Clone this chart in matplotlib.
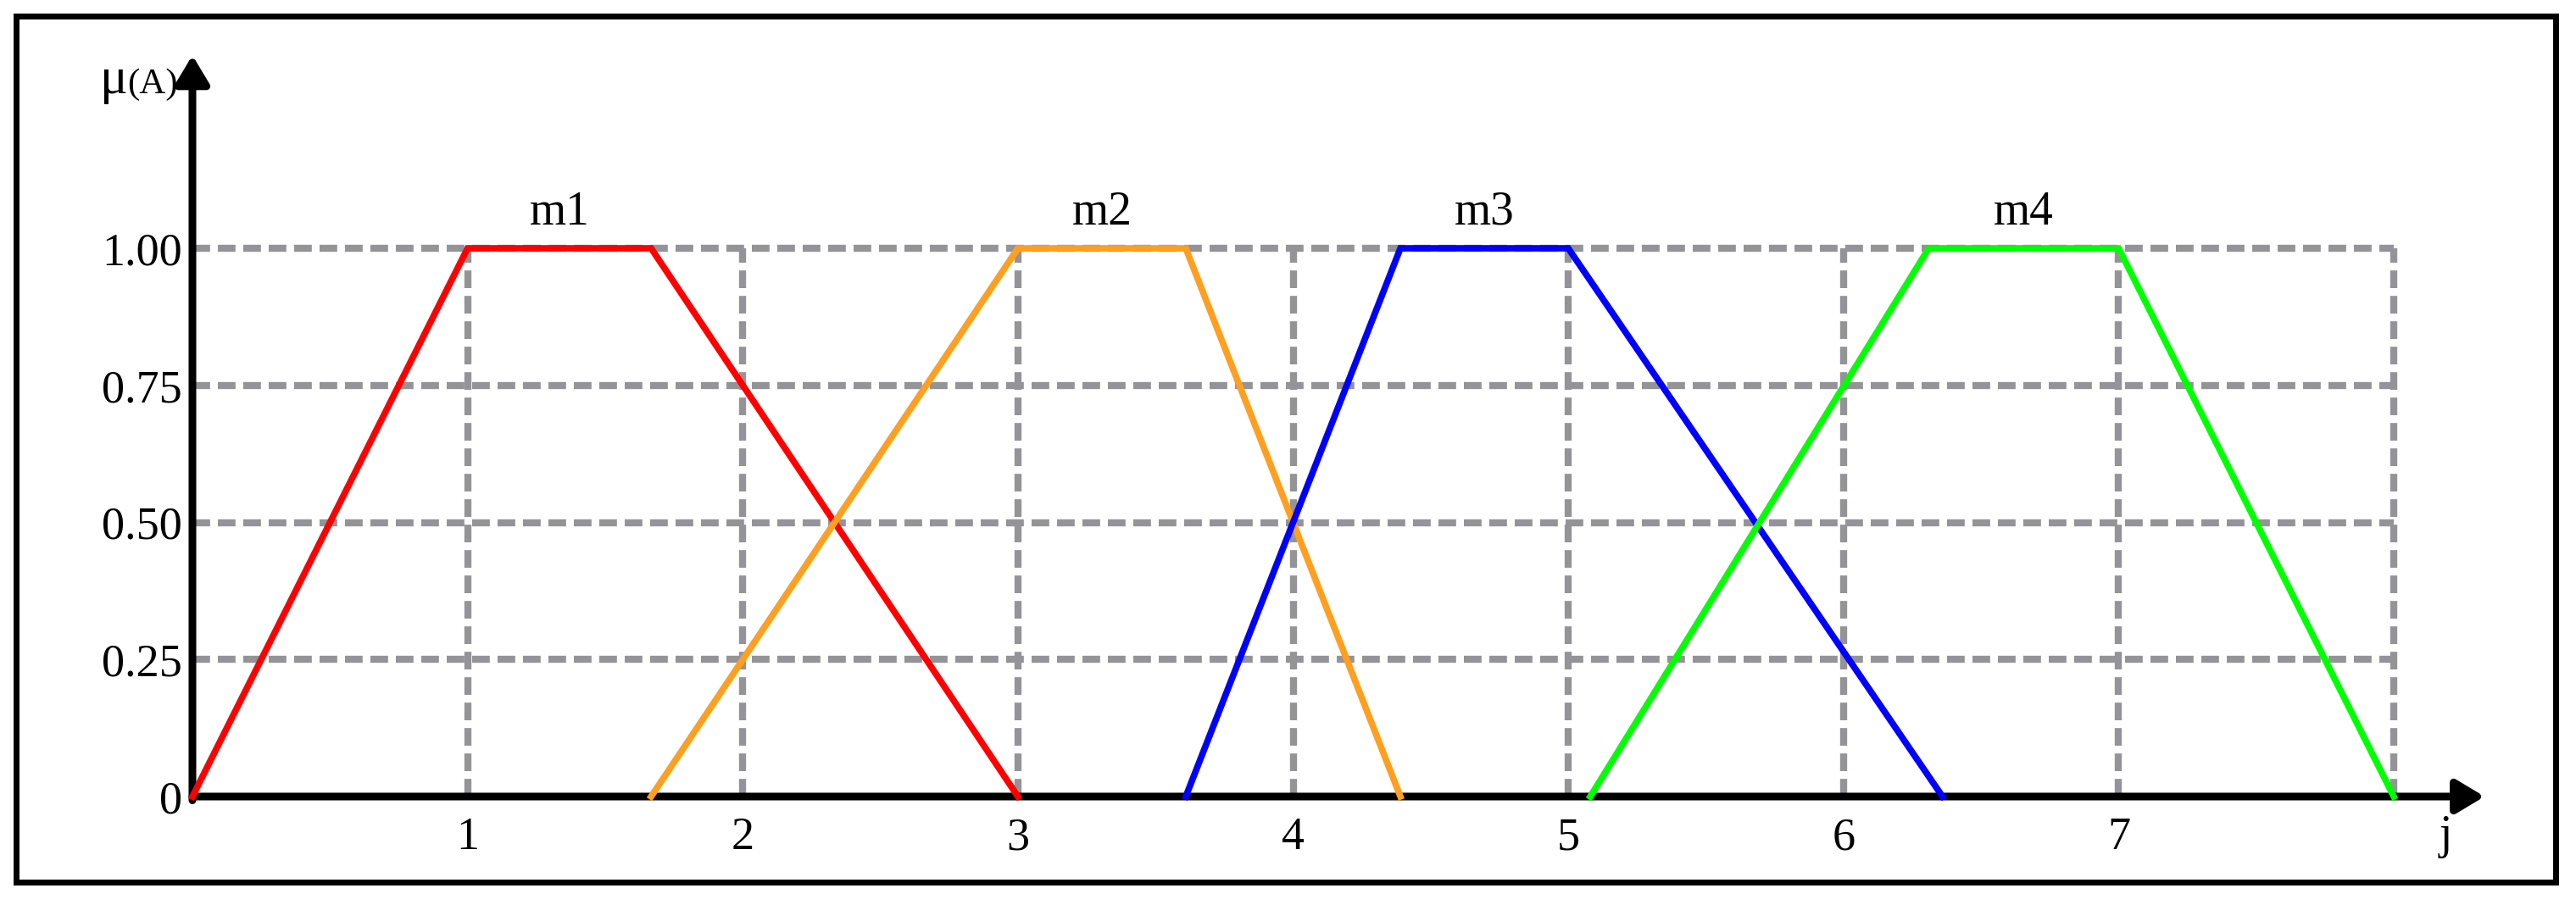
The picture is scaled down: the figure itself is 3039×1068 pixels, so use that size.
import matplotlib
matplotlib.use("Agg")
import matplotlib.pyplot as plt
from matplotlib.patches import Rectangle

# membership functions (trapezoids), x breakpoints
m_names = ["m1", "m2", "m3", "m4"]
m1_x = [0.0, 1.0, 1.667, 3.0]
m2_x = [1.667, 3.0, 3.61, 4.39]
m3_x = [3.61, 4.39, 5.0, 6.36]
m4_x = [5.08, 6.31, 7.0, 8.0]
trap_y = [0.0, 1.0, 1.0, 0.0]
colors = ["#ff0000", "#ff9f1f", "#0000ff", "#00ff00"]

x_ticks = [1, 2, 3, 4, 5, 6, 7]
y_ticks = [0, 0.25, 0.5, 0.75, 1.0]
y_ticklabels = ["0", "0.25", "0.50", "0.75", "1.00"]
grid_x = [1, 2, 3, 4, 5, 6, 7, 8]

W, H = 3039, 1068
fig = plt.figure(figsize=(W / 100, H / 100), dpi=100)
plt.rcParams['font.family'] = ['Liberation Serif', 'DejaVu Serif']

# axes: x 0..8 -> px 227..2824, y 0..1 -> px 940..293 (from top)
x0, x8, y0, y1 = 227, 2824, 940, 293
ax = fig.add_axes([x0 / W, (H - y0) / H, (x8 - x0) / W, (y0 - y1) / H])
ax.set_xlim(0, 8)
ax.set_ylim(0, 1)
for s in ax.spines.values():
    s.set_visible(False)

gray = "#949498"
dash = dict(color=gray, lw=6, dashes=(2.5, 1.1), dash_capstyle="butt", zorder=1, clip_on=False)
for yv in y_ticks[1:]:
    ax.plot([0, 8], [yv, yv], **dash)
for xv in grid_x:
    ax.plot([xv, xv], [0, 1], **dash)

for xs, c in zip([m1_x, m2_x, m3_x, m4_x], colors):
    ax.plot(xs, trap_y, color=c, lw=5.5, zorder=3, solid_joinstyle="miter", clip_on=False)

for name, xs in zip(m_names, [m1_x, m2_x, m3_x, m4_x]):
    ax.text((xs[1] + xs[2]) / 2, 1.025, name, ha="center", va="bottom", fontsize=40)

# arrows for axes
arrow = dict(arrowstyle="-|>,head_length=0.5,head_width=0.3", lw=6.5, color="k",
             shrinkA=0, shrinkB=0, mutation_scale=40)
ax.annotate("", xy=(8.33, 0), xytext=(0, 0), annotation_clip=False, arrowprops=arrow, zorder=2)
ax.annotate("", xy=(0, 1.352), xytext=(0, -0.007), annotation_clip=False, arrowprops=arrow, zorder=2)

ax.set_xticks(x_ticks)
ax.set_xticklabels([str(t) for t in x_ticks])
ax.set_yticks(y_ticks)
ax.set_yticklabels(y_ticklabels)
ax.tick_params(axis="both", length=0, labelsize=39)
ax.tick_params(axis="x", pad=17)
ax.tick_params(axis="y", pad=9)

ax.text(-0.236, 1.283, "μ", ha="right", va="baseline", fontsize=44)
ax.text(-0.236, 1.283, "(A)", ha="left", va="baseline", fontsize=31)
ax.text(8.19, -0.094, "j", ha="center", va="baseline", fontsize=40)

fig.patches.append(Rectangle((18.5 / W, (H - 1041) / H), (3015 - 18.5) / W, (1041 - 18.5) / H,
                             transform=fig.transFigure, fill=False, lw=5, ec="k"))

fig.savefig("out.png", dpi=100)
